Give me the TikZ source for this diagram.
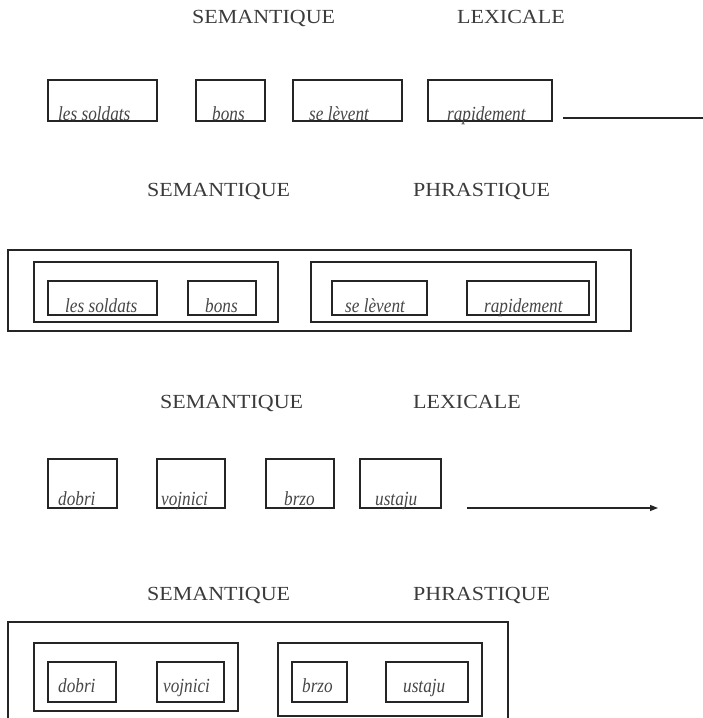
\documentclass[tikz,border=0pt]{standalone}
\usepackage{fontspec}
\setmainfont{Liberation Serif}
\newfontfamily\wordfont[FakeStretch=0.86]{Liberation Serif}
\newfontfamily\titlefont[FakeStretch=1.1]{Liberation Serif}
\usetikzlibrary{arrows.meta}
\definecolor{ink}{HTML}{252525}
\tikzset{
  wbox/.style={draw=ink, line width=1.3pt, inner sep=0pt, outer sep=0pt, anchor=north west},
  word/.style={font=\wordfont\itshape\fontsize{20}{20}\selectfont, text=ink!85, inner sep=0pt, anchor=base west},
  title/.style={font=\titlefont\fontsize{20}{20}\selectfont, text=ink!90, inner sep=0pt, anchor=base west},
  conn/.style={draw=ink, line width=1.3pt},
}
\newcommand{\wbx}[5]{\node[wbox, minimum width=#4pt, minimum height=#5pt] (#1) at (#2,#3) {};}
\begin{document}
\begin{tikzpicture}[x=1pt,y=-1pt]
\useasboundingbox (0,0) rectangle (703,718);
\clip (0,0) rectangle (703,718);
% ---- row 1
\node[title] (t1a) at (192,23) {SEMANTIQUE};
\node[title] (t1b) at (457,23) {LEXICALE};
\wbx{a1}{48}{80}{109}{41}
\wbx{b1}{196}{80}{69}{41}
\wbx{c1}{293}{80}{109}{41}
\wbx{d1}{428}{80}{124}{41}
\node[word] (wa1) at (58,120) {les soldats};
\node[word] (wb1) at (212,120) {bons};
\node[word] (wc1) at (309,120) {se lèvent};
\node[word] (wd1) at (447,120) {rapidement};
\coordinate (l1s) at (563,118);
\coordinate (l1e) at (705,118);
\draw[conn] (l1s) -- (l1e);
% ---- row 2
\node[title] (t2a) at (147,196) {SEMANTIQUE};
\node[title] (t2b) at (413,196) {PHRASTIQUE};
\wbx{o2}{8}{250}{623}{81}
\wbx{l2}{34}{262}{244}{60}
\wbx{r2}{311}{262}{285}{60}
\wbx{a2}{48}{281}{109}{34}
\wbx{b2}{188}{281}{68}{34}
\wbx{c2}{332}{281}{95}{34}
\wbx{d2}{467}{281}{122}{34}
\node[word] (wa2) at (65,312) {les soldats};
\node[word] (wb2) at (205,312) {bons};
\node[word] (wc2) at (345,312) {se lèvent};
\node[word] (wd2) at (484,312) {rapidement};
% ---- row 3
\node[title] (t3a) at (160,408) {SEMANTIQUE};
\node[title] (t3b) at (413,408) {LEXICALE};
\wbx{a3}{48}{459}{69}{49}
\wbx{b3}{157}{459}{68}{49}
\wbx{c3}{266}{459}{68}{49}
\wbx{d3}{360}{459}{81}{49}
\node[word] (wa3) at (58,505) {dobri};
\node[word] (wb3) at (161,505) {vojnici};
\node[word] (wc3) at (284,505) {brzo};
\node[word] (wd3) at (375,505) {ustaju};
\coordinate (l3s) at (467,508);
\coordinate (l3e) at (658,508);
\draw[conn, -{Triangle[length=8pt,width=6pt]}] (l3s) -- (l3e);
% ---- row 4
\node[title] (t4a) at (147,600) {SEMANTIQUE};
\node[title] (t4b) at (413,600) {PHRASTIQUE};
\wbx{o4}{8}{622}{500}{110}
\wbx{l4}{34}{643}{204}{68}
\wbx{r4}{278}{643}{204}{73}
\wbx{a4}{48}{662}{68}{40}
\wbx{b4}{157}{662}{67}{40}
\wbx{c4}{292}{662}{55}{40}
\wbx{d4}{386}{662}{82}{40}
\node[word] (wa4) at (58,692) {dobri};
\node[word] (wb4) at (163,692) {vojnici};
\node[word] (wc4) at (302,692) {brzo};
\node[word] (wd4) at (403,692) {ustaju};
\end{tikzpicture}
\end{document}
